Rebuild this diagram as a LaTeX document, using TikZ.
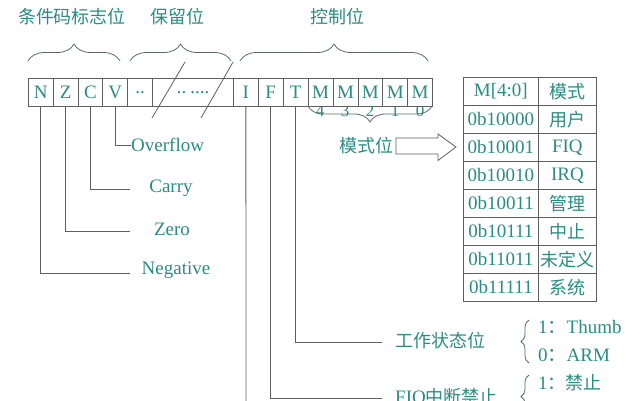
\documentclass[tikz,border=0pt]{standalone}
\usepackage{fontspec}
\setmainfont{Liberation Serif}
\newfontfamily\cjk{Noto Sans CJK SC}
\newcommand\cnf{\cjk\fontsize{18}{20}\selectfont}
\usetikzlibrary{decorations.pathreplacing}
\definecolor{tealtxt}{RGB}{42,140,130}
\definecolor{linegray}{RGB}{95,95,95}
\definecolor{bracegray}{RGB}{90,105,105}
\begin{document}
\begin{tikzpicture}[x=1pt,y=-1pt,
  every node/.style={text=tealtxt, font=\fontsize{19}{21}\selectfont, inner sep=0pt},
  cell/.style={draw=linegray, line width=0.8pt, minimum height=28pt, minimum width=24.9pt, anchor=north west, fill=white},
  tcell/.style={draw=linegray, line width=0.8pt, minimum height=28pt, anchor=north west},
  ln/.style={draw=linegray, line width=0.8pt},
  br/.style={draw=bracegray, line width=0.8pt, decorate, decoration={brace, amplitude=#1}},
  br/.default=16,
  cn/.style={font=\cnf},
  dig/.style={font=\fontsize{17}{19}\selectfont}]
\useasboundingbox (0,0) rectangle (641,400);
\clip (0,0) rectangle (641,400);
% top labels
\node[cn] (lab1) at (72,17) {条件码标志位};
\node[cn] (lab2) at (177,17) {保留位};
\node[cn] (lab3) at (337,17) {控制位};
% braces
\draw[br=17] (28,61) -- (120,61);
\draw[br=17] (130,61) -- (231,61);
\draw[br=17] (240,61) -- (428,61);
% mode digits (partly hidden under cells)
\node[dig] (d4) at (320,111) {4};
\node[dig] (d3) at (345,111) {3};
\node[dig] (d2) at (370,111) {2};
\node[dig] (d1) at (395,111) {1};
\node[dig] (d0) at (420,111) {0};
% register cells
\node[cell] (N) at (28,78) {N};
\node[cell] (Z) at (52.8,78) {Z};
\node[cell] (C) at (77.6,78) {C};
\node[cell] (V) at (102.4,78) {V};
\node[cell] (R1) at (127.3,78) {..};
\node[cell, minimum width=81pt] (R2) at (152.2,78) {..\hspace{4pt}....};
\node[cell] (I) at (233,78) {I};
\node[cell] (F) at (257.9,78) {F};
\node[cell] (T) at (282.8,78) {T};
\node[cell] (M4) at (307.7,78) {M};
\node[cell] (M3) at (332.6,78) {M};
\node[cell] (M2) at (357.5,78) {M};
\node[cell] (M1) at (382.4,78) {M};
\node[cell] (M0) at (407.3,78) {M};
% brace under mode bits
\draw[br=16] (432,106) -- (308,106);
% slashes
\draw[ln] (185,62) -- (152,118);
\draw[ln] (233,62) -- (201,118);
% flag labels
\node[anchor=west] (ov) at (131,145) {Overflow};
\draw[ln] (V.south) |- (ov.west);
\node (ca) at (171,188) {Carry};
\coordinate (cae) at (130,189);
\draw[ln] (C.south) |- (cae);
\node (ze) at (172,229) {Zero};
\coordinate (zee) at (130,231);
\draw[ln] (Z.south) |- (zee);
\node (ne) at (176,270) {Negative};
\coordinate (nee) at (130,273);
\draw[ln] (N.south) |- (nee);
% control lines
\coordinate (te) at (382,342);
\draw[ln] (T.south) |- (te);
\node[cn, anchor=west] (ts) at (395,341) {工作状态位};
\draw[br=8] (529,363) -- (529,320);
\node[anchor=west] (th) at (538,327) {1{\cjk ：}Thumb};
\node[anchor=west] (ar) at (538,355) {0{\cjk ：}ARM};
\coordinate (fe) at (382,398);
\draw[ln] (F.south) |- (fe);
\node[anchor=west] (fq) at (395,397) {FIQ{\cnf 中断禁止}};
\draw[br=8] (529,418) -- (529,375);
\node[anchor=west] (fb) at (538,383) {1{\cnf ：禁止}};
\coordinate (ie) at (246,405);
\draw[ln] (I.south) -- (ie);
% mode label and block arrow
\node[cn] (ms) at (366,146) {模式位};
\draw[ln, fill=white] (396,138) -- (438,138) -- (438,134) -- (456,147) -- (438,160.5) -- (438,154) -- (396,154) -- cycle;
% table
\node[tcell, minimum width=75pt] (h1) at (463,77) {M[4:0]};
\node[tcell, minimum width=58pt] (h2) at (538,77) {\cnf 模式};
\foreach \code/\name [count=\i] in {0b10000/{\cnf 用户}, 0b10001/FIQ, 0b10010/IRQ, 0b10011/{\cnf 管理}, 0b10111/{\cnf 中止}, 0b11011/{\cnf 未定义}, 0b11111/{\cnf 系统}}{
  \node[tcell, minimum width=75pt] (c\i) at (463,77+28*\i) {\code};
  \node[tcell, minimum width=58pt] (n\i) at (538,77+28*\i) {\name};
}
\end{tikzpicture}
\end{document}
